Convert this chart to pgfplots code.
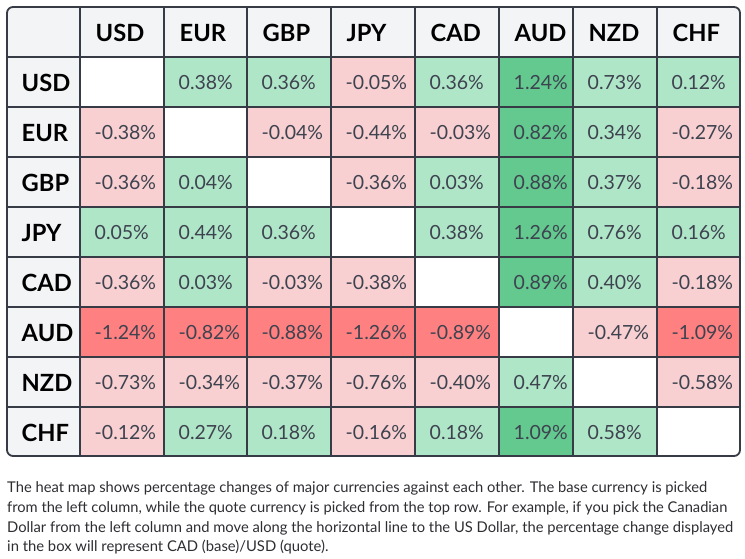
\documentclass[border=0pt]{standalone}
\usepackage{graphicx}
\usepackage{pgfplots}
\pgfplotsset{compat=1.18}
\usepackage{pgfplotstable}
\usepackage{fontspec}
\setmainfont{Lato}
\definecolor{lgreen}{RGB}{176,230,200}
\definecolor{dgreen}{RGB}{99,201,143}
\definecolor{lred}{RGB}{249,208,209}
\definecolor{dred}{RGB}{255,128,128}
\definecolor{hdrbg}{RGB}{243,244,246}
\definecolor{gridc}{RGB}{55,59,70}
\definecolor{valtext}{RGB}{62,67,80}
\definecolor{foottext}{RGB}{45,45,50}
\newcommand\cellmark[3]{% name, colour, width
  \pgfdeclareplotmark{#1}{%
    \pgfsetfillcolor{#2}%
    \pgfpathrectangle{\pgfpoint{-0.5*#3bp}{-25bp}}{\pgfpoint{#3bp}{50bp}}%
    \pgfusepathqfill}}
\cellmark{LGw}{lgreen}{84}
\cellmark{LGn}{lgreen}{74}
\cellmark{DGn}{dgreen}{74}
\cellmark{LRw}{lred}{84}
\cellmark{DRw}{dred}{84}
% x0 = left edge of the column, w = column width, yt = top of the row (pixels), v = change in %
\pgfplotstableread{
x0 w yt v cls
164 83 57 0.38 lg
247 84 57 0.36 lg
331 84 57 -0.05 lr
415 84 57 0.36 lg
499 74 57 1.24 dg
573 84 57 0.73 lg
657 83 57 0.12 lg
80 84 107 -0.38 lr
247 84 107 -0.04 lr
331 84 107 -0.44 lr
415 84 107 -0.03 lr
499 74 107 0.82 dg
573 84 107 0.34 lg
657 83 107 -0.27 lr
80 84 157 -0.36 lr
164 83 157 0.04 lg
331 84 157 -0.36 lr
415 84 157 0.03 lg
499 74 157 0.88 dg
573 84 157 0.37 lg
657 83 157 -0.18 lr
80 84 207 0.05 lg
164 83 207 0.44 lg
247 84 207 0.36 lg
415 84 207 0.38 lg
499 74 207 1.26 dg
573 84 207 0.76 lg
657 83 207 0.16 lg
80 84 257 -0.36 lr
164 83 257 0.03 lg
247 84 257 -0.03 lr
331 84 257 -0.38 lr
499 74 257 0.89 dg
573 84 257 0.40 lg
657 83 257 -0.18 lr
80 84 307 -1.24 dr
164 83 307 -0.82 dr
247 84 307 -0.88 dr
331 84 307 -1.26 dr
415 84 307 -0.89 dr
573 84 307 -0.47 lr
657 83 307 -1.09 dr
80 84 357 -0.73 lr
164 83 357 -0.34 lr
247 84 357 -0.37 lr
331 84 357 -0.76 lr
415 84 357 -0.40 lr
499 74 357 0.47 lgn
657 83 357 -0.58 lr
80 84 407 -0.12 lr
164 83 407 0.27 lg
247 84 407 0.18 lg
331 84 407 -0.16 lr
415 84 407 0.18 lg
499 74 407 1.09 dg
573 84 407 0.58 lg
}\cells
\begin{document}
\begin{tikzpicture}
\begin{axis}[
  set layers,
  scale only axis, width=745bp, height=559bp,
  xmin=0, xmax=745, ymin=0, ymax=559, y dir=reverse,
  enlargelimits=false, hide axis, clip=false,
]
% background of the table
\begin{pgfonlayer}{axis background}
\begin{scope}
\clip[rounded corners=6bp] (7,7) rectangle (740,456);
\fill[hdrbg] (7,7) rectangle (740,456);
\fill[white] (80,57) rectangle (740,456);
\end{scope}
\end{pgfonlayer}
% coloured cells
\addplot[scatter, only marks, scatter src=explicit symbolic,
  scatter/classes={
    lg={mark=LGw},
    lgn={mark=LGn},
    dg={mark=DGn},
    lr={mark=LRw},
    dr={mark=DRw}}]
  table[x expr=\thisrow{x0}+0.5*\thisrow{w}, y expr=\thisrow{yt}+25, meta=cls] {\cells};
% values
\addplot[draw=none, mark=none, point meta=explicit symbolic,
  nodes near coords={\pgfplotspointmeta\%},
  nodes near coords style={anchor=base west, inner sep=0pt, text=valtext,
    font=\fontsize{19.5bp}{22bp}\selectfont}]
  table[x expr=\thisrow{x0}+14.5, y expr=\thisrow{yt}+33, meta=v] {\cells};
% grid
\begin{pgfonlayer}{axis foreground}
\draw[gridc, line width=2bp]
  (80,7) -- (80,456) (164,7) -- (164,456) (247,7) -- (247,456)
  (331,7) -- (331,456) (415,7) -- (415,456) (499,7) -- (499,456)
  (573,7) -- (573,456) (657,7) -- (657,456)
  (7,57) -- (740,57) (7,107) -- (740,107) (7,157) -- (740,157)
  (7,207) -- (740,207) (7,257) -- (740,257) (7,307) -- (740,307)
  (7,357) -- (740,357) (7,407) -- (740,407);
\draw[gridc, line width=1.8bp, rounded corners=6bp] (7,7) rectangle (740,456);
% headers
\begin{scope}[every node/.style={anchor=base west, inner sep=0pt,
    font=\fontsize{23.7bp}{28bp}\selectfont\bfseries}]
\node at (95.5,42) {USD};
\node at (179.5,42) {EUR};
\node at (262.5,42) {GBP};
\node at (346.5,42) {JPY};
\node at (430.5,42) {CAD};
\node at (514.5,42) {AUD};
\node at (588.5,42) {NZD};
\node at (672.5,42) {CHF};
\node at (21.5,92) {USD};
\node at (21.5,142) {EUR};
\node at (21.5,192) {GBP};
\node at (21.5,242) {JPY};
\node at (21.5,292) {CAD};
\node at (21.5,342) {AUD};
\node at (21.5,392) {NZD};
\node at (21.5,442) {CHF};
\end{scope}
% footnote
\begin{scope}[every node/.style={anchor=base west, inner sep=0pt, text=foottext,
    font=\fontsize{14.8bp}{18bp}\selectfont}]
\node at (7,493) {\resizebox{700bp}{\height}{The heat map shows percentage changes of major currencies against each other. The base currency is picked}};
\node at (7,512.5) {\resizebox{720bp}{\height}{from the left column, while the quote currency is picked from the top row. For example, if you pick the Canadian}};
\node at (7,532) {\resizebox{726bp}{\height}{Dollar from the left column and move along the horizontal line to the US Dollar, the percentage change displayed}};
\node at (7,551.5) {in the box will represent CAD (base)/USD (quote).};
\end{scope}
\end{pgfonlayer}
\end{axis}
\pgfresetboundingbox
\path (current axis.south west) rectangle (current axis.north east);
\end{tikzpicture}
\end{document}
